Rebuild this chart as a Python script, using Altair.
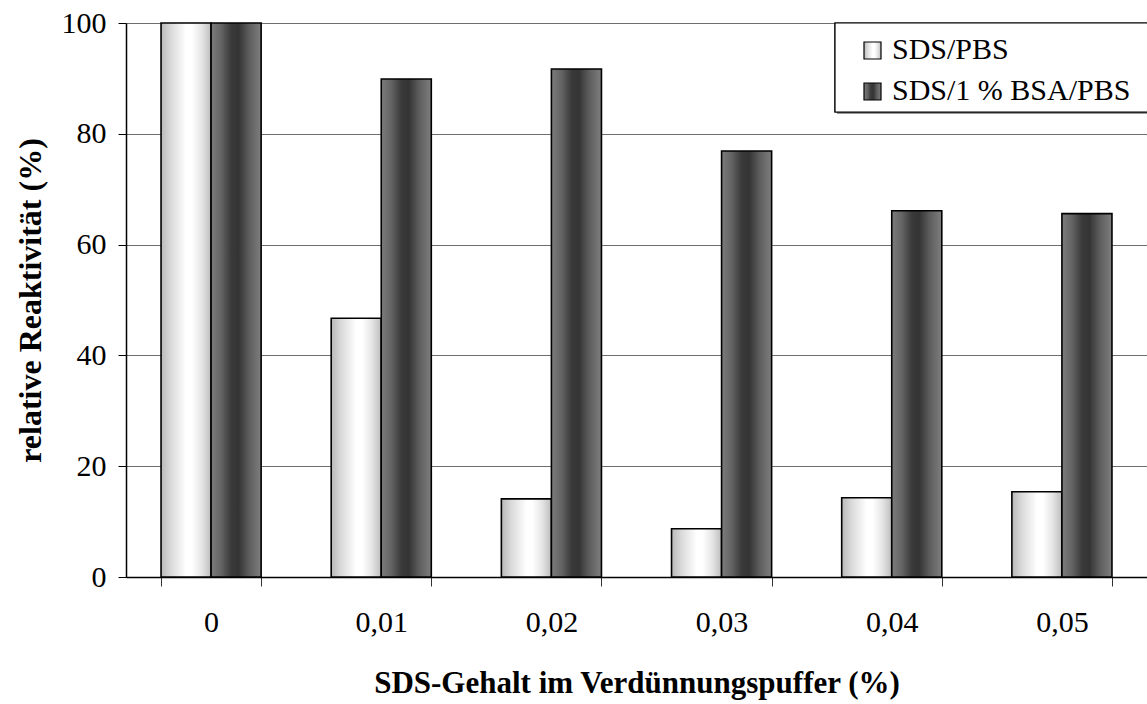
import altair as alt
import pandas as pd

# SDS content of the dilution buffer (%)
concentrations = ["0", "0,01", "0,02", "0,03", "0,04", "0,05"]
series_names = ["SDS/PBS", "SDS/1 % BSA/PBS"]
# relative reactivity (%) per buffer
sds_pbs = [100, 46.7, 14.1, 8.7, 14.3, 15.4]
sds_bsa_pbs = [100, 89.9, 91.7, 76.9, 66.1, 65.6]

rows = []
for c, a, b in zip(concentrations, sds_pbs, sds_bsa_pbs):
    rows.append({"conc": c, "series": series_names[0], "value": a})
    rows.append({"conc": c, "series": series_names[1], "value": b})
df = pd.DataFrame(rows)
legend_df = pd.DataFrame({"series": series_names})

FONT = "'Times New Roman', 'Liberation Serif', serif"
W, H = 1021, 554


def cylinder(stops):
    return alt.Gradient(
        gradient="linear", x1=0, x2=1, y1=0, y2=0,
        stops=[alt.GradientStop(color=c, offset=o) for o, c in stops],
    )


light_fill = cylinder([(0, "#b8b8b8"), (0.2, "#dadada"), (0.5, "#ffffff"),
                       (0.62, "#ffffff"), (0.82, "#e4e4e4"), (1, "#bdbdbd")])
dark_fill = cylinder([(0, "#7c7c7c"), (0.2, "#646464"), (0.4, "#3a3a3a"),
                      (0.55, "#343434"), (0.75, "#5c5c5c"), (1, "#7e7e7e")])

base = alt.Chart(df).encode(
    x=alt.X(
        "conc:N", sort=concentrations,
        scale=alt.Scale(paddingInner=0.4118, paddingOuter=0.2059),
        axis=alt.Axis(
            title="SDS-Gehalt im Verdünnungspuffer (%)",
            titleFont=FONT, titleFontSize=31, titleFontWeight="bold",
            titleColor="black", titleBaseline="alphabetic", titleY=115,
            labelFont=FONT, labelFontSize=30, labelColor="black",
            labelAngle=0, labelPadding=21, labelBaseline="top",
            tickBand="extent", tickSize=9, tickColor="#333333",
            domainColor="black", domainWidth=1.5, grid=False,
        ),
    ),
    xOffset=alt.XOffset(
        "series:N", sort=series_names,
        scale=alt.Scale(domain=series_names, paddingInner=0, paddingOuter=0),
    ),
    y=alt.Y(
        "value:Q",
        scale=alt.Scale(domain=[0, 100], nice=False),
        axis=alt.Axis(
            title="relative Reaktivität (%)",
            titleFont=FONT, titleFontSize=32, titleFontWeight="bold",
            titleColor="black", titleX=-96, titleY=H / 2,
            titleAlign="center", titleBaseline="middle",
            values=[0, 20, 40, 60, 80, 100],
            labelFont=FONT, labelFontSize=30, labelColor="black",
            labelPadding=12, tickSize=8, tickColor="black",
            domainColor="black", domainWidth=1.5,
            grid=True, gridColor="#6e6e6e", gridWidth=1.2,
        ),
    ),
)

bars_light = base.transform_filter(
    alt.datum.series == series_names[0]
).mark_bar(fill=light_fill, stroke="black", strokeWidth=1.6)

bars_dark = base.transform_filter(
    alt.datum.series == series_names[1]
).mark_bar(fill=dark_fill, stroke="black", strokeWidth=1.6)

# legend box with a soft shadow
leg = alt.Chart(legend_df)
shadow = leg.mark_rect(fill="#9a9a9a").encode(
    x=alt.value(711), x2=alt.value(1040), y=alt.value(2), y2=alt.value(91)
)
box = leg.mark_rect(fill="white", stroke="black", strokeWidth=1.2).encode(
    x=alt.value(709), x2=alt.value(1040), y=alt.value(0), y2=alt.value(89)
)

legend_layers = []
for i, (name, fill) in enumerate(zip(series_names, [light_fill, dark_fill])):
    sub = leg.transform_filter(alt.datum.series == name)
    top = 19 + 41 * i
    legend_layers.append(
        sub.mark_rect(fill=fill, stroke="black", strokeWidth=1.2).encode(
            x=alt.value(738), x2=alt.value(755),
            y=alt.value(top), y2=alt.value(top + 17),
        )
    )
    legend_layers.append(
        sub.mark_text(
            font=FONT, fontSize=30, color="black", align="left",
            baseline="alphabetic",
        ).encode(
            text="series:N", x=alt.value(766), y=alt.value(top + 17),
        )
    )

chart = alt.layer(bars_light, bars_dark, shadow, box, *legend_layers).properties(
    width=W, height=H,
    autosize=alt.AutoSizeParams(type="none"),
    padding={"left": 126, "top": 23, "right": 0, "bottom": 127},
    background="white",
).configure_view(stroke=None)

chart.save("out.html", embed_options={"renderer": "svg", "actions": False})
